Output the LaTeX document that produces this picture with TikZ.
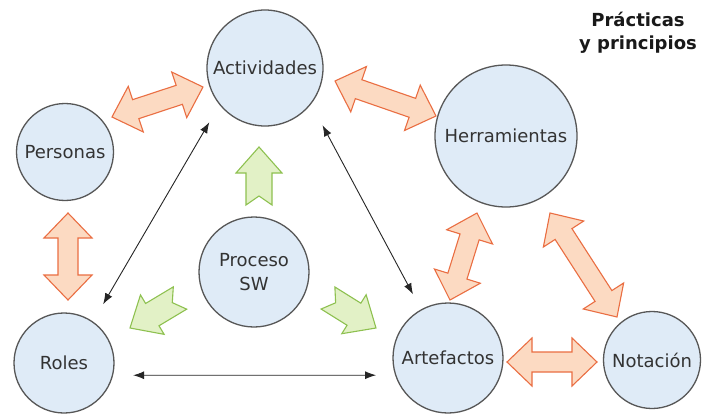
\documentclass[tikz,border=0pt]{standalone}
\usepackage{fontspec}
\setmainfont{DejaVu Sans}
\usetikzlibrary{arrows.meta}
\definecolor{circborder}{HTML}{575757}
\definecolor{circfill}{HTML}{DFEBF7}
\definecolor{labeltext}{HTML}{333333}
\definecolor{orline}{HTML}{EA6E42}
\definecolor{orfill}{HTML}{FCDAC2}
\definecolor{grline}{HTML}{8EC150}
\definecolor{grfill}{HTML}{E2F1C6}
\tikzset{
  circ/.style={circle, draw=circborder, line width=1.3pt, fill=circfill,
    inner sep=0pt, text=labeltext, font=\fontsize{18}{24}\selectfont, align=center},
  orblock/.style={draw=orline, fill=orfill, line width=1.1pt, line join=miter},
  grblock/.style={draw=grline, fill=grfill, line width=1.1pt, line join=miter},
  blk/.style={draw=black!85, line width=0.9pt, {Latex[length=11pt,width=8pt]}-{Latex[length=11pt,width=8pt]}},
}
% double block arrow between two points (pixel coords)
\newcommand\dblblock[4]{%
  \pgfmathsetmacro\bang{atan2(-((#4)-(#2)),(#3)-(#1))}%
  \pgfmathsetmacro\blen{veclen((#3)-(#1),(#4)-(#2))}%
  \begin{scope}[shift={(#1,#2)},rotate=\bang]
    \draw[orblock] (0,0) -- (25,24) -- (25,10) -- (\blen-25,10) -- (\blen-25,24) -- (\blen,0)
      -- (\blen-25,-24) -- (\blen-25,-10) -- (25,-10) -- (25,-24) -- cycle;
  \end{scope}}
% single notched block arrow from tail to tip
\newcommand\sglblock[4]{%
  \pgfmathsetmacro\bang{atan2(-((#4)-(#2)),(#3)-(#1))}%
  \pgfmathsetmacro\blen{veclen((#3)-(#1),(#4)-(#2))}%
  \begin{scope}[shift={(#1,#2)},rotate=\bang]
    \draw[grblock] (0,13) -- (\blen-26,13) -- (\blen-26,23) -- (\blen,0) -- (\blen-26,-23)
      -- (\blen-26,-13) -- (0,-13) -- (9,0) -- cycle;
  \end{scope}}
\begin{document}
\begin{tikzpicture}[x=1pt,y=-1pt]
\useasboundingbox[fill=white] (0,0) rectangle (705,415);
% block arrows (behind)
\dblblock{112}{117}{203}{87}
\dblblock{335}{81}{436}{116}
\dblblock{68}{213}{68}{300}
\dblblock{450}{300}{477}{213}
\dblblock{550}{213}{617}{317}
\dblblock{507}{362}{597}{362}
\sglblock{259}{205}{259}{147}
\sglblock{180}{298}{130}{328}
\sglblock{328}{298}{376}{328}
% circles
\node[circ, minimum size=116pt] (Act) at (265,68) {Actividades};
\node[circ, minimum size=97pt] (Per) at (65,152) {Personas};
\node[circ, minimum size=142pt] (Her) at (506,136) {Herramientas};
\node[circ, minimum size=110pt] (Pro) at (254,272) {Proceso\\SW};
\node[circ, minimum size=100pt] (Rol) at (64,363) {Roles};
\node[circ, minimum size=110pt] (Art) at (448,358) {Artefactos};
\node[circ, minimum size=97pt] (Not) at (652,360) {Notación};
% title
\node[font=\bfseries\fontsize{18}{23}\selectfont, align=center, text=black!90] (tit) at (638,33) {Prácticas\\y principios};
% black connectors
\draw[blk, shorten <=20pt, shorten >=20pt] (Rol.55) -- (Act.219);
\draw[blk, shorten <=24pt, shorten >=17pt] (Act.322) -- (Art.119);
\draw[blk, shorten <=20pt, shorten >=19pt] (Rol.-14) -- (Art.198);
\end{tikzpicture}
\end{document}
